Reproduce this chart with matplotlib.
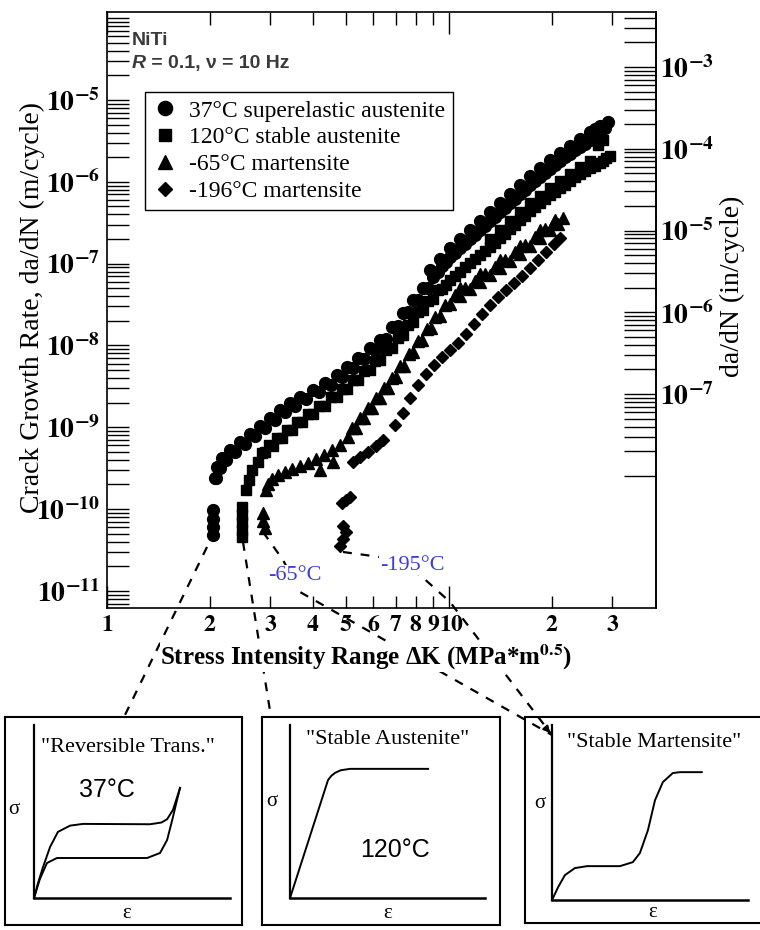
import numpy as np
import matplotlib.pyplot as plt
from matplotlib.ticker import FixedLocator, FuncFormatter, NullFormatter
from matplotlib.transforms import blended_transform_factory

plt.rcParams['font.family'] = ['Liberation Serif', 'DejaVu Serif']
plt.rcParams['mathtext.fontset'] = 'stix'

# crack growth data: dK (MPa m^0.5) vs da/dN (m/cycle)
dk_37 = [2.04, 2.04, 2.04, 2.04,
         2.07, 2.10, 2.17, 2.29, 2.45, 2.62, 2.80, 3.00, 3.21, 3.43, 3.67, 4.00, 4.34, 4.70,
         5.04, 5.42, 5.87, 6.29, 6.81, 7.34, 7.85, 8.40, 8.98, 9.54, 10.07, 10.8, 11.5, 12.3,
         13.2, 14.1, 15.1, 16.1, 17.3, 18.5, 19.7, 21.1, 22.6, 24.2, 25.8, 27.6, 28.6, 29.2,
         8.80, 10.07, 11.5, 13.2, 15.1, 17.3, 19.7, 22.6, 25.8, 27.6,
         2.085, 2.135, 2.23, 2.37, 2.53, 2.71, 2.90, 3.10, 3.32, 3.55, 3.83, 4.17, 4.52, 4.87,
         5.23, 5.64, 6.08, 6.55, 7.07, 7.59, 8.12, 8.69,
         9.26, 9.80, 10.43, 11.15, 11.9, 12.74, 13.64, 14.59, 15.59, 16.69, 17.89, 19.09, 20.39,
         21.84, 23.39, 24.99, 26.69,
         9.41, 10.76, 12.32, 14.12, 16.16, 18.46, 21.1, 24.15, 26.69]
rate_37 = [9.7e-11, 7.5e-11, 6.0e-11, 4.8e-11,
           2.4e-10, 3.3e-10, 4.2e-10, 5.3e-10, 6.6e-10, 8.2e-10, 1.03e-9, 1.29e-9, 1.62e-9, 1.98e-9,
           2.33e-9, 2.85e-9, 3.47e-9, 4.35e-9, 5.48e-9, 6.98e-9, 9.3e-9, 1.16e-8, 1.68e-8, 2.49e-8,
           3.59e-8, 5.02e-8, 6.85e-8, 9.33e-8, 1.20e-7, 1.55e-7, 2.0e-7, 2.57e-7, 3.31e-7, 4.27e-7,
           5.5e-7, 7.1e-7, 9.1e-7, 1.14e-6, 1.43e-6, 1.80e-6, 2.19e-6, 2.67e-6, 3.24e-6, 3.84e-6,
           4.55e-6, 5.38e-6,
           8.35e-8, 1.56e-7, 2.57e-7, 4.27e-7, 7.1e-7, 1.18e-6, 1.85e-6, 2.74e-6, 4.06e-6, 4.81e-6,
           2.39e-10, 3.16e-10, 4.01e-10, 5.03e-10, 6.25e-10, 7.81e-10, 9.8e-10, 1.23e-9, 1.52e-9,
           1.83e-9, 2.19e-9, 2.67e-9, 3.30e-9, 4.15e-9, 5.26e-9, 6.85e-9, 8.83e-9, 1.19e-8, 1.74e-8,
           2.54e-8, 3.61e-8, 4.98e-8,
           7.99e-8, 1.06e-7, 1.36e-7, 1.76e-7, 2.27e-7, 2.92e-7, 3.76e-7, 4.85e-7, 6.25e-7, 8.04e-7,
           1.02e-6, 1.28e-6, 1.60e-6, 1.99e-6, 2.42e-6, 2.94e-6, 3.53e-6,
           1.14e-7, 2.0e-7, 3.31e-7, 5.51e-7, 9.15e-7, 1.48e-6, 2.25e-6, 3.34e-6, 4.42e-6]

dk_120 = [2.48, 2.48, 2.48, 2.48, 2.48,
          2.55, 2.60, 2.66, 2.76, 2.90, 3.06, 3.25, 3.48, 3.72, 4.00, 4.34, 4.70, 5.04, 5.42,
          5.87, 6.29, 6.81, 7.34, 7.85, 8.40, 8.98, 9.54, 10.07, 10.8, 11.5, 12.3, 13.2, 14.1,
          15.1, 16.1, 17.3, 18.5, 19.7, 21.1, 22.6, 24.2, 25.8, 27.6, 28.8, 29.6,
          13.2, 15.1, 17.3, 19.7, 22.6, 25.8, 27.2, 28.2,
          2.83, 2.98, 3.15, 3.36, 3.60, 3.86, 4.17, 4.52, 4.87, 5.23, 5.64, 6.08, 6.55, 7.07,
          7.59, 8.12, 8.69, 9.26,
          9.80, 10.43, 11.15, 11.9, 12.74, 13.64, 14.59, 15.59, 16.69, 17.89, 19.09, 20.39,
          21.84, 23.39, 24.99, 26.69, 28.19,
          14.12, 16.16, 18.46, 21.1, 24.15]
rate_120 = [1.06e-10, 8.4e-11, 6.9e-11, 5.5e-11, 4.5e-11,
            1.71e-10, 2.26e-10, 3.0e-10, 3.75e-10, 5.0e-10, 5.89e-10, 7.37e-10, 9.2e-10, 1.15e-9,
            1.45e-9, 1.82e-9, 2.33e-9, 2.93e-9, 3.78e-9, 5.0e-9, 6.6e-9, 9.31e-9, 1.34e-8, 1.93e-8,
            2.71e-8, 3.69e-8, 4.89e-8, 6.30e-8, 7.89e-8, 1.02e-7, 1.27e-7, 1.60e-7, 2.05e-7, 2.64e-7,
            3.41e-7, 4.39e-7, 5.50e-7, 6.9e-7, 8.36e-7, 1.02e-6, 1.245e-6, 1.47e-6, 1.69e-6, 1.96e-6,
            2.07e-6,
            2.0e-7, 3.31e-7, 5.5e-7, 8.36e-7, 1.245e-6, 1.80e-6, 2.82e-6, 3.24e-6,
            4.85e-10, 6.08e-10, 7.38e-10, 9.22e-10, 1.15e-9, 1.45e-9, 1.82e-9, 2.31e-9, 2.93e-9,
            3.73e-9, 4.87e-9, 6.43e-9, 8.78e-9, 1.25e-8, 1.80e-8, 2.56e-8, 3.54e-8, 4.76e-8,
            5.55e-8, 7.05e-8, 8.97e-8, 1.14e-7, 1.43e-7, 1.81e-7, 2.33e-7, 3.0e-7, 3.87e-7, 4.91e-7,
            6.16e-7, 7.60e-7, 9.23e-7, 1.13e-6, 1.35e-6, 1.58e-6, 1.82e-6,
            2.57e-7, 4.27e-7, 6.78e-7, 1.02e-6, 1.50e-6]

dk_m65 = [2.85, 2.86, 2.90,
          2.92, 2.96, 3.04, 3.17, 3.32, 3.48, 3.67, 3.87, 4.09, 4.31, 4.55, 4.80, 5.07, 5.35,
          5.64, 5.95, 6.29, 6.63, 7.00, 7.39, 7.85, 8.34, 8.86, 9.41, 10.07, 10.8, 11.5, 12.3,
          13.2, 14.1, 15.1, 16.1, 17.3, 18.5, 19.7, 20.8, 21.5,
          4.20, 4.58,
          10.8, 12.3, 14.1, 16.1, 18.5, 20.4,
          5.21, 5.49, 5.79, 6.12, 6.46, 6.81, 7.19, 7.62, 8.09, 8.60, 9.13, 9.73, 10.43, 11.15,
          11.9, 12.74, 13.64, 14.59, 15.59, 16.69, 17.89, 19.09, 20.24]
rate_m65 = [8.9e-11, 7.2e-11, 5.9e-11,
            1.71e-10, 2.03e-10, 2.33e-10, 2.60e-10, 2.84e-10, 3.09e-10, 3.35e-10, 3.65e-10, 4.08e-10,
            4.57e-10, 5.26e-10, 6.06e-10, 7.56e-10, 9.73e-10, 1.29e-9, 1.71e-9, 2.27e-9, 3.01e-9,
            4.11e-9, 5.64e-9, 8.32e-9, 1.16e-8, 1.63e-8, 2.28e-8, 3.21e-8, 4.01e-8, 4.89e-8, 5.96e-8,
            7.25e-8, 8.83e-8, 1.08e-7, 1.31e-7, 1.64e-7, 2.05e-7, 2.57e-7, 3.05e-7, 3.61e-7,
            3.0e-10, 3.75e-10,
            5.02e-8, 7.46e-8, 1.11e-7, 1.64e-7, 2.57e-7, 3.41e-7,
            9.86e-10, 1.29e-9, 1.71e-9, 2.27e-9, 3.01e-9, 4.04e-9, 5.54e-9, 7.88e-9, 1.13e-8,
            1.58e-8, 2.22e-8, 3.11e-8, 4.13e-8, 5.09e-8, 6.21e-8, 7.56e-8, 9.2e-8, 1.12e-7,
            1.37e-7, 1.69e-7, 2.11e-7, 2.64e-7, 3.22e-7]

dk_m196 = [4.80, 4.90, 5.00, 4.90, 4.87, 5.14, 5.00,
           5.24, 5.49, 5.79, 6.12, 6.41, 6.95, 7.34, 7.69, 8.12, 8.57, 9.04, 9.54, 10.07, 10.65,
           11.2, 11.8, 12.5, 13.2, 13.9, 14.7, 15.5, 16.3, 17.3, 18.25, 19.2, 20.3, 21.1]
rate_m196 = [3.5e-11, 4.3e-11, 5.2e-11, 6.2e-11, 1.18e-10, 1.40e-10, 1.29e-10,
             3.75e-10, 4.32e-10, 4.97e-10, 5.89e-10, 6.97e-10, 1.06e-9, 1.49e-9, 2.27e-9, 3.28e-9,
             4.48e-9, 5.8e-9, 7.18e-9, 8.8e-9, 1.07e-8, 1.38e-8, 1.83e-8, 2.42e-8, 3.12e-8, 3.90e-8,
             4.75e-8, 5.79e-8, 7.05e-8, 8.83e-8, 1.11e-7, 1.39e-7, 1.74e-7, 2.05e-7]

x_ticks_minor = [2, 3, 4, 5, 6, 7, 8, 9, 20, 30]

# schematic stress-strain curves of the three insets (strain, stress; arbitrary units)
rev_load_e = [0, 0.02, 0.046, 0.082, 0.122, 0.184, 0.25, 0.592, 0.650, 0.679, 0.709, 0.745]
rev_load_s = [0, 0.085, 0.179, 0.295, 0.382, 0.418, 0.428, 0.426, 0.436, 0.455, 0.509, 0.636]
rev_unload_e = [0.745, 0.725, 0.709, 0.679, 0.643, 0.577, 0.117, 0.066, 0.03, 0]
rev_unload_s = [0.636, 0.545, 0.468, 0.335, 0.260, 0.231, 0.231, 0.202, 0.11, 0]
aus_e = [0, 0.195, 0.212, 0.231, 0.26, 0.308, 0.708]
aus_s = [0, 0.682, 0.706, 0.723, 0.738, 0.746, 0.746]
mar_e = [0, 0.031, 0.066, 0.117, 0.179, 0.347, 0.413, 0.449, 0.490, 0.526, 0.566, 0.617, 0.653, 0.765]
mar_s = [0, 0.074, 0.143, 0.183, 0.194, 0.194, 0.217, 0.269, 0.400, 0.571, 0.674, 0.726, 0.731, 0.731]

# dashed connector paths, figure pixels (x right, y down)
conn_37 = [(207, 547), (124, 717)]
conn_120 = [(243, 542), (271, 717)]
conn_m65 = [(263, 532), (283, 560), (300, 592), (552, 735)]
conn_m195 = [(343, 552), (380, 557), (420, 575), (450, 602), (552, 735)]

blue = '#3c3cdc'

fig = plt.figure(figsize=(7.6, 9.3), dpi=100)

ov = fig.add_axes([0, 0, 1, 1], zorder=0.5)
ov.set_xlim(0, 760)
ov.set_ylim(930, 0)
ov.axis('off')
for path in [conn_37, conn_120, conn_m65, conn_m195]:
    xs, ys = zip(*path)
    ov.plot(xs, ys, color='k', lw=1.6, ls=(0, (4, 4)))
for path in [conn_m65, conn_m195]:
    ov.annotate('', xy=path[-1], xytext=(path[-1][0] - 7, path[-1][1] - 8),
                arrowprops=dict(arrowstyle='-|>', color='k', lw=1.2, mutation_scale=10))

ax = fig.add_axes([0.1408, 0.3462, 0.7224, 0.6409], zorder=1)
ax.set_facecolor('none')
ax.set_xscale('log')
ax.set_yscale('log')

ax.plot(dk_37, rate_37, ls='none', marker='o', ms=8.5, color='k', label='37°C superelastic austenite')
ax.plot(dk_120, rate_120, ls='none', marker='s', ms=7.5, color='k', label='120°C stable austenite')
ax.plot(dk_m65, rate_m65, ls='none', marker='^', ms=8.5, color='k', label='-65°C martensite')
ax.plot(dk_m196, rate_m196, ls='none', marker='D', ms=6.0, color='k', label='-196°C martensite')

ax.set_xlim(1, 40.3)
ax.set_ylim(10 ** -11.21, 10 ** -3.924)

ax.xaxis.set_major_locator(FixedLocator([1, 10]))
ax.xaxis.set_minor_locator(FixedLocator(x_ticks_minor))
# the "10" label sits a little right of its tick (as in the original), drawn separately below
ax.xaxis.set_major_formatter(FuncFormatter(lambda v, p: r'$\mathbf{%d}$' % v if v < 10 else ''))
ax.xaxis.set_minor_formatter(FuncFormatter(lambda v, p: r'$\mathbf{%d}$' % (v if v < 10 else v // 10)))
ax.annotate(r'$\mathbf{10}$', xy=(10.2, 0), xycoords=blended_transform_factory(ax.transData, ax.transAxes),
            xytext=(0, -5), textcoords='offset points', ha='center', va='top', fontsize=17)

ax.yaxis.set_major_locator(FixedLocator([10.0 ** e for e in range(-11, -3)]))
ax.yaxis.set_minor_locator(FixedLocator([k * 10.0 ** e for e in range(-12, -3) for k in range(2, 10)]))


def left_fmt(v, pos):
    e = int(round(np.log10(v)))
    if e > -5:
        return ''
    return r'$\mathbf{10^{%d}}$' % e


ax.yaxis.set_major_formatter(FuncFormatter(left_fmt))
ax.yaxis.set_minor_formatter(NullFormatter())

ax.tick_params(axis='x', which='both', direction='in', top=True, pad=5, width=1, labelsize=17)
ax.tick_params(axis='x', which='major', length=16)
ax.tick_params(axis='x', which='minor', length=9)
ax.tick_params(axis='y', which='both', direction='in', right=False, length=16, width=1,
               labelsize=20, pad=5)
for s in ax.spines.values():
    s.set_linewidth(1.2)

sec = ax.secondary_yaxis('right', functions=(lambda y: y / 0.0254, lambda y: y * 0.0254))
sec.yaxis.set_major_locator(FixedLocator([10.0 ** e for e in range(-7, -2)]))
sec.yaxis.set_minor_locator(FixedLocator([k * 10.0 ** e for e in range(-8, -2) for k in range(1, 10)
                                          if not (k == 1 and e > -8)]))
sec.yaxis.set_major_formatter(FuncFormatter(lambda v, p: r'$\mathbf{10^{%d}}$' % int(round(np.log10(v)))))
sec.yaxis.set_minor_formatter(NullFormatter())
sec.tick_params(which='both', direction='in', length=23, width=1, labelsize=20, pad=3)
sec.spines['right'].set_linewidth(1.2)
sec.set_ylabel('da/dN (in/cycle)', fontsize=20, rotation=90, va='center')
sec.yaxis.set_label_coords(1.140, 0.539, transform=ax.transAxes)

ax.set_ylabel('Crack Growth Rate, da/dN (m/cycle)', fontsize=20)
ax.yaxis.set_label_coords(-0.113, 0.505)
ax.set_xlabel(r'Stress Intensity Range ΔK (MPa*m$^{\mathbf{0.5}}$)', fontsize=18, fontweight='bold',
              bbox=dict(facecolor='white', edgecolor='none', pad=0))
ax.xaxis.set_label_coords(0.472, -0.058)

ax.text(0.0455, 0.953, 'NiTi', transform=ax.transAxes, fontfamily='Liberation Sans',
        fontweight='bold', fontsize=14, color='#3a3a3a', va='center')
r_txt = ax.text(0.0455, 0.914, 'R', transform=ax.transAxes, fontfamily='Liberation Sans',
                fontweight='bold', fontstyle='italic', fontsize=14, color='#3a3a3a', va='center')
ax.annotate(' = 0.1, ν = 10 Hz', xy=(1, 0.5), xycoords=r_txt, va='center', ha='left',
            fontfamily='Liberation Sans', fontweight='bold', fontsize=14, color='#3a3a3a')

ax.text(3.55, 1.56e-11, '-65°C', color=blue, fontsize=16, ha='center', va='center',
        bbox=dict(facecolor='white', edgecolor='none', pad=0.5))
ax.text(7.8, 2.07e-11, '-195°C', color=blue, fontsize=16, ha='center', va='center',
        bbox=dict(facecolor='white', edgecolor='none', pad=0.5))

leg = ax.legend(loc='upper left', bbox_to_anchor=(0.069, 0.866), borderaxespad=0, fancybox=False,
                edgecolor='black', framealpha=1, fontsize=17, markerscale=1.2, handlelength=1.0,
                handletextpad=0.5, labelspacing=0.22, borderpad=0.35)
leg.get_frame().set_linewidth(1.0)

# insets: (left, bottom, width, height) in figure fraction, xlim, ylim
insets = [
    ([0.0066, 0.0054, 0.3118, 0.2237], (-0.148, 1.061), (-0.156, 1.046)),
    ([0.3447, 0.0054, 0.3132, 0.2237], (-0.144, 1.077), (-0.156, 1.046)),
    ([0.6908, 0.0075, 0.3300, 0.2215], (-0.138, 1.143), (-0.131, 1.046)),
]
titles = ['"Reversible Trans."', '"Stable Austenite"', '"Stable Martensite"']
title_pos = [(0.48, 0.867), (0.503, 0.913), (0.520, 0.903)]
sigma_pos = [(-0.102, 0.509), (-0.092, 0.555), (-0.061, 0.554)]
eps_pos = [(0.474, -0.092), (0.503, -0.087), (0.515, -0.069)]
curves = [[(rev_load_e, rev_load_s), (rev_unload_e, rev_unload_s)], [(aus_e, aus_s)], [(mar_e, mar_s)]]

for i, (rect, xl, yl) in enumerate(insets):
    a = fig.add_axes(rect)
    a.set_facecolor('none')
    a.set_xlim(*xl)
    a.set_ylim(*yl)
    a.set_xticks([])
    a.set_yticks([])
    for s in a.spines.values():
        s.set_linewidth(1.5)
    a.plot([0, 0], [0, 1.0], color='k', lw=1.6)
    a.plot([0, 1.0], [0, 0], color='k', lw=1.8)
    for e, s in curves[i]:
        a.plot(e, s, color='k', lw=1.4)
    a.text(*title_pos[i], titles[i], fontsize=16, ha='center', va='center')
    a.text(*sigma_pos[i], 'σ', fontsize=15, ha='center', va='center')
    a.text(*eps_pos[i], 'ε', fontsize=15, ha='center', va='center')
    if i == 0:
        a.text(0.372, 0.624, '37°C', fontsize=18, ha='center', va='center',
               fontfamily=['Liberation Sans Narrow', 'Liberation Sans'])
    if i == 1:
        a.text(0.538, 0.277, '120°C', fontsize=18, ha='center', va='center',
               fontfamily=['Liberation Sans Narrow', 'Liberation Sans'])

fig.savefig('out.png', dpi=100)
